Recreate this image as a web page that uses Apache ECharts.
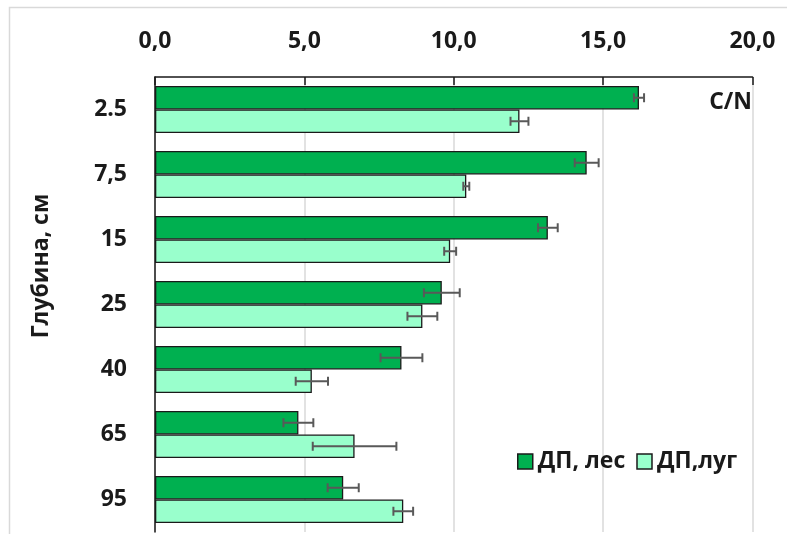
<!DOCTYPE html>
<html>
<head>
<meta charset="utf-8">
<script src="https://cdn.jsdelivr.net/npm/echarts@6/dist/echarts.min.js"></script>
<style>
  html, body { margin: 0; padding: 0; background: #fff; }
  #chart { width: 787px; height: 534px; }
</style>
</head>
<body>
<div id="chart"></div>
<script>
// Depth categories (cm), top to bottom
const depths = ['2.5', '7,5', '15', '25', '40', '65', '95'];

// C/N ratio, forest plot
const forest = [16.2, 14.45, 13.15, 9.6, 8.25, 4.8, 6.3];
const forestErr = [0.17, 0.4, 0.33, 0.6, 0.7, 0.5, 0.52];

// C/N ratio, meadow plot
const meadow = [12.2, 10.42, 9.88, 8.95, 5.25, 6.68, 8.31];
const meadowErr = [0.3, 0.1, 0.2, 0.5, 0.54, 1.4, 0.33];

// Value axis ticks
const xTicks = [0, 5, 10, 15, 20];

const seriesNames = ['ДП, лес', 'ДП,луг'];
const FONT = '"Open Sans", "Noto Sans", "Liberation Sans", sans-serif';
const BAR_W = 23.5;

const chart = echarts.init(document.getElementById('chart'), null, { renderer: 'canvas' });

function errorSeries(values, errs, offset) {
  return {
    type: 'custom',
    silent: true,
    z: 5,
    data: values.map((v, i) => [v, i, errs[i]]),
    encode: { x: 0, y: 1 },
    renderItem: function (params, api) {
      const v = api.value(0), i = api.value(1), e = api.value(2);
      const y = api.coord([v, i])[1] + offset;
      const x1 = api.coord([v - e, i])[0];
      const x2 = api.coord([v + e, i])[0];
      const cap = 4.5;
      const style = { stroke: '#595959', lineWidth: 2 };
      return {
        type: 'group',
        children: [
          { type: 'line', shape: { x1: x1, y1: y, x2: x2, y2: y }, style: style },
          { type: 'line', shape: { x1: x1, y1: y - cap, x2: x1, y2: y + cap }, style: style },
          { type: 'line', shape: { x1: x2, y1: y - cap, x2: x2, y2: y + cap }, style: style }
        ]
      };
    }
  };
}

const option = {
  animation: false,
  backgroundColor: '#ffffff',
  textStyle: { fontFamily: FONT },
  grid: { left: 155, right: 34.5, top: 77, bottom: 2, containLabel: false },
  legend: {
    data: seriesNames,
    icon: 'rect',
    left: 512,
    top: 445,
    itemWidth: 15,
    itemHeight: 15,
    itemGap: 11,
    textStyle: { fontFamily: FONT, fontWeight: 'bold', fontSize: 23, color: '#1a1a1a' },
    itemStyle: { borderColor: '#1a1a1a', borderWidth: 1.5 }
  },
  xAxis: {
    type: 'value',
    position: 'top',
    min: xTicks[0],
    max: xTicks[xTicks.length - 1],
    interval: xTicks[1] - xTicks[0],
    axisLine: { show: true, lineStyle: { color: '#1a1a1a', width: 1.5 } },
    axisTick: { show: true, inside: true, length: 8, lineStyle: { color: '#1a1a1a', width: 1.5 } },
    splitLine: { show: true, lineStyle: { color: '#d9d9d9', width: 1.5 } },
    axisLabel: {
      margin: 24,
      fontFamily: FONT,
      fontWeight: 'bold',
      fontSize: 23,
      color: '#1a1a1a',
      formatter: v => v.toFixed(1).replace('.', ',')
    }
  },
  yAxis: {
    type: 'category',
    data: depths,
    inverse: true,
    axisLine: { show: true, lineStyle: { color: '#1a1a1a', width: 1.5 } },
    axisTick: { show: false },
    axisLabel: {
      margin: 28,
      fontFamily: FONT,
      fontWeight: 'bold',
      fontSize: 23,
      color: '#1a1a1a'
    }
  },
  graphic: [
    {
      type: 'rect',
      z: -10,
      silent: true,
      shape: { x: 9.5, y: 7.5, width: 800, height: 560 },
      style: { fill: 'none', stroke: '#d9d9d9', lineWidth: 1.5 }
    },
    {
      type: 'text',
      x: 41,
      y: 266,
      rotation: Math.PI / 2,
      style: {
        text: 'Глубина, см',
        fontFamily: FONT,
        fontWeight: 'bold',
        fontSize: 23,
        fill: '#1a1a1a',
        align: 'center',
        verticalAlign: 'middle'
      }
    },
    {
      type: 'text',
      x: 752,
      y: 102,
      z: 10,
      style: {
        text: 'C/N',
        fontFamily: FONT,
        fontWeight: 'bold',
        fontSize: 23,
        fill: '#1a1a1a',
        align: 'right',
        verticalAlign: 'middle'
      }
    }
  ],
  series: [
    {
      name: seriesNames[0],
      type: 'bar',
      data: forest,
      barWidth: BAR_W,
      barGap: '0%',
      itemStyle: { color: '#00b050', borderColor: '#1a1a1a', borderWidth: 1.3 }
    },
    {
      name: seriesNames[1],
      type: 'bar',
      data: meadow,
      barWidth: BAR_W,
      barGap: '0%',
      itemStyle: { color: '#99ffcc', borderColor: '#1a1a1a', borderWidth: 1.3 }
    },
    errorSeries(forest, forestErr, -BAR_W / 2),
    errorSeries(meadow, meadowErr, BAR_W / 2)
  ]
};

chart.setOption(option);
</script>
</body>
</html>
